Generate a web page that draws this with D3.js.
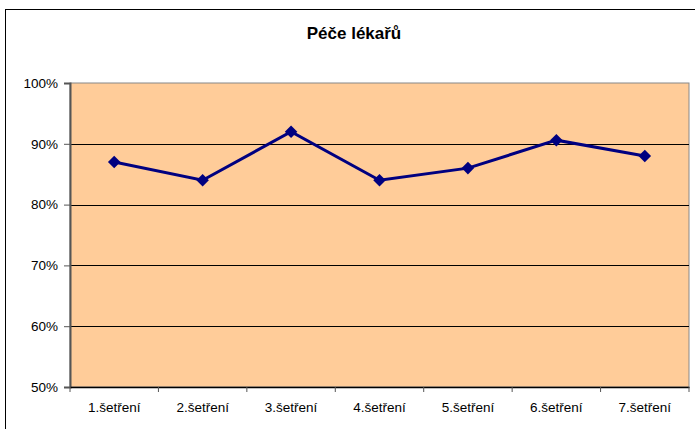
<!DOCTYPE html>
<html>
<head>
<meta charset="utf-8">
<script src="https://cdn.jsdelivr.net/npm/d3@7"></script>
<style>
  body { margin: 0; background: #fff; }
  svg { display: block; font-family: Arial, "Liberation Sans", sans-serif; }
</style>
</head>
<body>
<div id="chart"></div>
<script>
// Data
const categories = ["1.šetření", "2.šetření", "3.šetření", "4.šetření", "5.šetření", "6.šetření", "7.šetření"];
const values = [0.87, 0.84, 0.92, 0.84, 0.86, 0.906, 0.88];
const yTicks = [0.5, 0.6, 0.7, 0.8, 0.9, 1.0];

const W = 695, H = 429;
const margin = { top: 83, right: 6, bottom: 42, left: 70 };
const width = W - margin.left - margin.right;
const height = H - margin.top - margin.bottom;

const root = d3.select("#chart").append("svg")
  .attr("width", W)
  .attr("height", H);

// Outer chart border
root.append("rect")
  .attr("x", 5.5).attr("y", 9.5)
  .attr("width", W).attr("height", H)
  .attr("fill", "none")
  .attr("stroke", "#000");

// Title
root.append("text")
  .attr("x", 354)
  .attr("y", 39)
  .attr("text-anchor", "middle")
  .style("font-size", "17px")
  .style("font-weight", "bold")
  .text("Péče lékařů");

const svg = root.append("g")
  .attr("transform", `translate(${margin.left},${margin.top})`);

// Scales
const x = d3.scaleBand().domain(categories).range([0, width]);
const y = d3.scaleLinear().domain([0.5, 1.0]).range([height, 0]);

// Plot area
svg.append("rect")
  .attr("width", width)
  .attr("height", height)
  .attr("fill", "#ffcc99")
  .attr("stroke", "#888")
  .attr("stroke-width", 1);

// Gridlines
svg.selectAll(".grid")
  .data(yTicks.filter(t => t > 0.5 && t < 1))
  .enter().append("line")
    .attr("x1", 0).attr("x2", width)
    .attr("y1", d => Math.round(y(d)) + 0.5)
    .attr("y2", d => Math.round(y(d)) + 0.5)
    .attr("stroke", "#000");

// Y axis
const yAxis = svg.append("g")
  .call(d3.axisLeft(y).tickValues(yTicks).tickFormat(d3.format(".0%")).tickSize(6).tickPadding(6));
yAxis.select(".domain").attr("stroke", "#555").attr("stroke-width", 2);
yAxis.selectAll(".tick line").attr("stroke", "#555");
yAxis.selectAll("text").style("font-size", "13.5px").attr("fill", "#000");

// X axis with tick marks between categories
const xAxis = svg.append("g")
  .attr("transform", `translate(0,${height})`)
  .call(d3.axisBottom(x).tickSize(0).tickPadding(15));
xAxis.select(".domain").attr("stroke", "#000").attr("stroke-width", 1.5);
xAxis.selectAll("text").style("font-size", "13.5px").attr("fill", "#000");
svg.append("g")
  .selectAll("line")
  .data(d3.range(categories.length + 1))
  .enter().append("line")
    .attr("x1", i => i * x.bandwidth())
    .attr("x2", i => i * x.bandwidth())
    .attr("y1", height)
    .attr("y2", height + 5)
    .attr("stroke", "#555");

// Line
const line = d3.line()
  .x((d, i) => x(categories[i]) + x.bandwidth() / 2)
  .y(d => y(d));

svg.append("path")
  .datum(values)
  .attr("fill", "none")
  .attr("stroke", "#000080")
  .attr("stroke-width", 3)
  .attr("d", line);

// Diamond markers
svg.selectAll(".marker")
  .data(values)
  .enter().append("path")
    .attr("d", d3.symbol().type(d3.symbolDiamond2).size(100))
    .attr("transform", (d, i) => `translate(${x(categories[i]) + x.bandwidth() / 2},${y(d)})`)
    .attr("fill", "#000080");
</script>
</body>
</html>
